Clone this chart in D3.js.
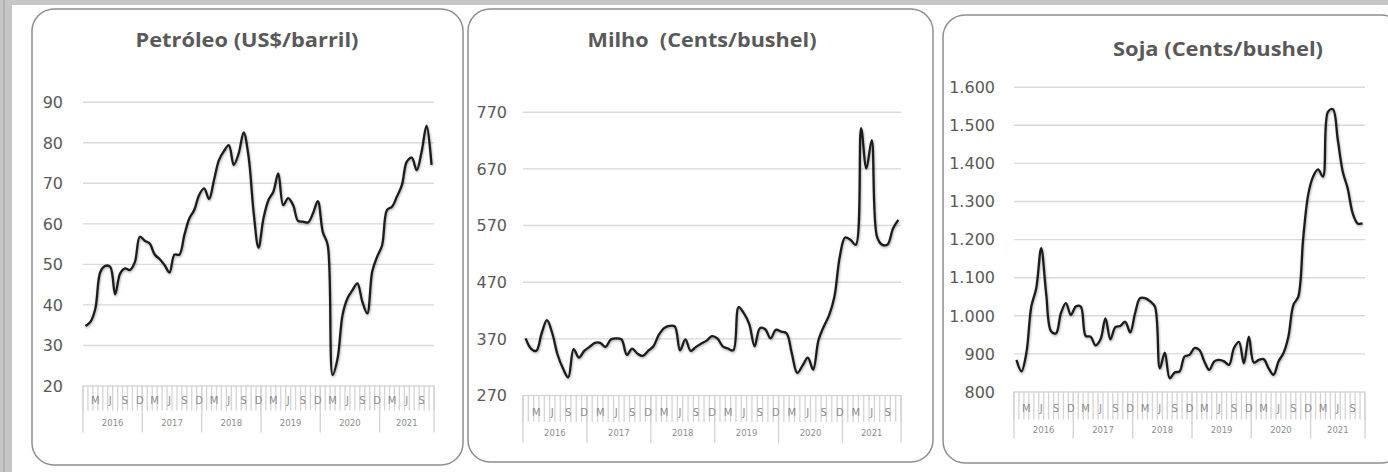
<!DOCTYPE html>
<html>
<head>
<meta charset="utf-8">
<script src="https://cdn.jsdelivr.net/npm/d3@7"></script>
<style>
  html, body { margin: 0; padding: 0; background: #ffffff; }
  svg { display: block; }
  .grid line { stroke: #d9d9d9; stroke-width: 1.4; }
  .grid text { fill: #595959; font-family: "DejaVu Sans", sans-serif; font-size: 16px; }
  .titulo { fill: #595959; font-family: "Open Sans", sans-serif; font-weight: 700; font-size: 19px; }
  .mes { fill: #8c8c8c; font-family: "DejaVu Sans", sans-serif; font-size: 10px; }
  .ano { fill: #8c8c8c; font-family: "DejaVu Sans", sans-serif; font-size: 8.5px; }
</style>
</head>
<body>
<div id="chart"></div>
<script>
// categorias: meses de jan/2016 a nov/2021
const anos = ["2016", "2017", "2018", "2019", "2020", "2021"];
const letrasMes = ["J", "F", "M", "A", "M", "J", "J", "A", "S", "O", "N", "D"];
const mesesVisiveis = [2, 5, 8, 11]; // M J S D
const totalMeses = 71;

// petróleo (US$/barril)
const petroleo = [34.7, 35.7, 39, 48, 49.5, 49.3, 42.5, 47.6, 48.9, 48.5, 50.5, 56.7,
  55.7, 55, 52.3, 51.2, 49.7, 47.9, 52.3, 52.3, 57.1, 61.2, 63.3, 67,
  68.6, 66, 70.7, 75.6, 77.8, 79.3, 74.4, 77.3, 82.4, 76.4, 62.9, 54,
  61.2, 65.7, 67.8, 72.3, 64.5, 66.2, 64.5, 60.6, 60.4, 60.2, 62.4, 65.5,
  57.9, 54.6, 22.6, 26.7, 37.4, 41.5, 43.5, 45.2, 40.7, 37.8, 48.1, 51.8,
  54.6, 63.3, 64.1, 66.6, 69.4, 75.2, 76.2, 73.1, 77.7, 84.1, 74.4];
const ticksPetroleo = [20, 30, 40, 50, 60, 70, 80, 90];

// milho (cents/bushel)
const milho = [370, 352, 348, 379, 402, 379, 341, 317, 301, 351, 336, 348,
  355, 362, 362, 355, 368, 370, 368, 341, 352, 343, 339, 348,
  356, 376, 388, 392, 391, 349, 368, 348, 355, 361, 366, 374,
  370, 356, 352, 349, 425, 414, 395, 356, 388, 386, 370, 385,
  382, 379, 343, 309, 322, 336, 315, 367, 391, 411, 444, 514,
  548, 544, 535, 741, 670, 720, 549, 535, 536, 564, 579];
const ticksMilho = [270, 370, 470, 570, 670, 770];

// soja (cents/bushel)
const soja = [883, 853, 901, 1023, 1071, 1176, 1058, 958, 953, 1006, 1032, 1001,
  1023, 1023, 946, 944, 921, 937, 992, 937, 969, 972, 983, 955,
  1006, 1045, 1045, 1037, 1023, 861, 902, 835, 850, 853, 892, 896,
  914, 909, 879, 857, 879, 883, 879, 870, 914, 930, 874, 944,
  876, 883, 885, 861, 844, 879, 901, 944, 1027, 1049, 1202, 1316,
  1364, 1383, 1364, 1534, 1541, 1460, 1377, 1333, 1268, 1241, 1241];
const ticksSoja = [800, 900, 1000, 1100, 1200, 1300, 1400, 1500, 1600];

const width = 1388, height = 472;
const ptBR = d3.formatLocale({ decimal: ",", thousands: ".", grouping: [3], currency: ["R$", ""] });
const fmt = ptBR.format(",d");

const meses = [];
for (let i = 0; i < totalMeses; i++) {
  meses.push({ id: i, ano: anos[Math.floor(i / 12)], mes: i % 12 });
}

const svg = d3.select("#chart")
  .append("svg")
  .attr("width", width)
  .attr("height", height);

const defs = svg.append("defs");
defs.append("filter")
  .attr("id", "sombra")
  .attr("x", "-5%").attr("y", "-5%").attr("width", "110%").attr("height", "115%")
  .append("feDropShadow")
  .attr("dx", 0.6).attr("dy", 1.2)
  .attr("stdDeviation", 1.2)
  .attr("flood-color", "#000")
  .attr("flood-opacity", 0.35);

// faixa cinza da planilha
svg.append("rect").attr("x", 0).attr("y", 0).attr("width", width).attr("height", 5).attr("fill", "#c6c6c6");
svg.append("rect").attr("x", 0).attr("y", 0).attr("width", 12).attr("height", height).attr("fill", "#c6c6c6");
svg.append("rect").attr("x", 3).attr("y", 0).attr("width", 2).attr("height", height).attr("fill", "#b4b4b4");

function desenharPainel(cfg) {
  const g = svg.append("g");

  g.append("rect")
    .attr("x", cfg.box[0]).attr("y", cfg.box[1])
    .attr("width", cfg.box[2]).attr("height", cfg.box[3])
    .attr("rx", 22).attr("ry", 22)
    .attr("fill", "#fff")
    .attr("stroke", "#8f8f8f")
    .attr("stroke-width", 1.5);

  g.append("text")
    .attr("class", "titulo")
    .attr("x", cfg.tituloX).attr("y", cfg.tituloY)
    .attr("text-anchor", "middle")
    .attr("xml:space", "preserve")
    .attr("textLength", cfg.tituloW)
    .attr("lengthAdjust", "spacingAndGlyphs")
    .text(cfg.titulo);

  const x = d3.scaleBand()
    .domain(meses.map(d => d.id))
    .range([cfg.x0, cfg.x1])
    .paddingInner(0).paddingOuter(0);

  const y = d3.scaleLinear()
    .domain(d3.extent(cfg.ticks))
    .range([cfg.yb, cfg.yt]);

  // grade + rótulos do eixo y
  const eixoY = g.append("g")
    .attr("class", "grid")
    .attr("transform", `translate(${cfg.x0},0)`)
    .call(d3.axisLeft(y)
      .tickValues(cfg.ticks)
      .tickSize(-(cfg.x1 - cfg.x0))
      .tickPadding(cfg.pad)
      .tickFormat(fmt));
  eixoY.select(".domain").remove();
  eixoY.selectAll("text").attr("dy", "0.36em");

  // eixo de categorias em dois níveis
  const eixoX = g.append("g").attr("transform", `translate(0,${cfg.yb})`);
  const bordas = d3.range(totalMeses + 1).map(i => i < totalMeses ? x(i) : cfg.x1);
  eixoX.selectAll("line.mes")
    .data(bordas)
    .join("line")
    .attr("x1", d => d).attr("x2", d => d)
    .attr("y1", 0).attr("y2", cfg.tickMes)
    .attr("stroke", "#d4d4d4")
    .attr("stroke-width", 1.3);

  const inicioAno = anos.map((a, k) => k * 12).concat([totalMeses]);
  eixoX.selectAll("line.ano")
    .data(inicioAno)
    .join("line")
    .attr("x1", d => d < totalMeses ? x(d) : cfg.x1)
    .attr("x2", d => d < totalMeses ? x(d) : cfg.x1)
    .attr("y1", 0).attr("y2", cfg.tickAno)
    .attr("stroke", "#d4d4d4")
    .attr("stroke-width", 1.4);

  eixoX.selectAll("text.mes")
    .data(meses.filter(d => mesesVisiveis.includes(d.mes)))
    .join("text")
    .attr("class", "mes")
    .attr("x", d => x(d.id) + x.bandwidth() / 2)
    .attr("y", cfg.rotMes)
    .attr("text-anchor", "middle")
    .attr("dy", "0.35em")
    .text(d => letrasMes[d.mes]);

  eixoX.selectAll("text.ano")
    .data(anos)
    .join("text")
    .attr("class", "ano")
    .attr("x", (d, k) => {
      const a = x(k * 12);
      const b = k * 12 + 12 < totalMeses ? x(k * 12 + 12) : cfg.x1;
      return (a + b) / 2;
    })
    .attr("y", cfg.rotAno)
    .attr("text-anchor", "middle")
    .attr("dy", "0.35em")
    .text(d => d);

  const linha = d3.line()
    .x((d, i) => x(i) + x.bandwidth() / 2)
    .y(d => y(d))
    .curve(d3.curveCatmullRom.alpha(0.5));

  g.append("path")
    .datum(cfg.valores)
    .attr("d", linha)
    .attr("fill", "none")
    .attr("stroke", "#1c1c1c")
    .attr("stroke-width", 2.3)
    .attr("stroke-linejoin", "round")
    .attr("filter", "url(#sombra)");
}

desenharPainel({
  box: [32, 9, 431, 456], titulo: "Petróleo (US$/barril)", tituloX: 247, tituloY: 47, tituloW: 223,
  x0: 83, x1: 434, yt: 101.7, yb: 385.5, pad: 20,
  ticks: ticksPetroleo, valores: petroleo,
  tickMes: 25, tickAno: 47, rotMes: 15, rotAno: 38
});

desenharPainel({
  box: [468, 9, 465, 453], titulo: "Milho  (Cents/bushel)", tituloX: 702, tituloY: 47, tituloW: 229,
  x0: 523, x1: 901, yt: 111.7, yb: 395, pad: 16,
  ticks: ticksMilho, valores: milho,
  tickMes: 27, tickAno: 48, rotMes: 17, rotAno: 38
});

desenharPainel({
  box: [943, 15, 460, 448], titulo: "Soja (Cents/bushel)", tituloX: 1218, tituloY: 56, tituloW: 210,
  x0: 1014, x1: 1365, yt: 86.7, yb: 391.5, pad: 19,
  ticks: ticksSoja, valores: soja,
  tickMes: 28, tickAno: 47, rotMes: 17, rotAno: 39
});
</script>
</body>
</html>
